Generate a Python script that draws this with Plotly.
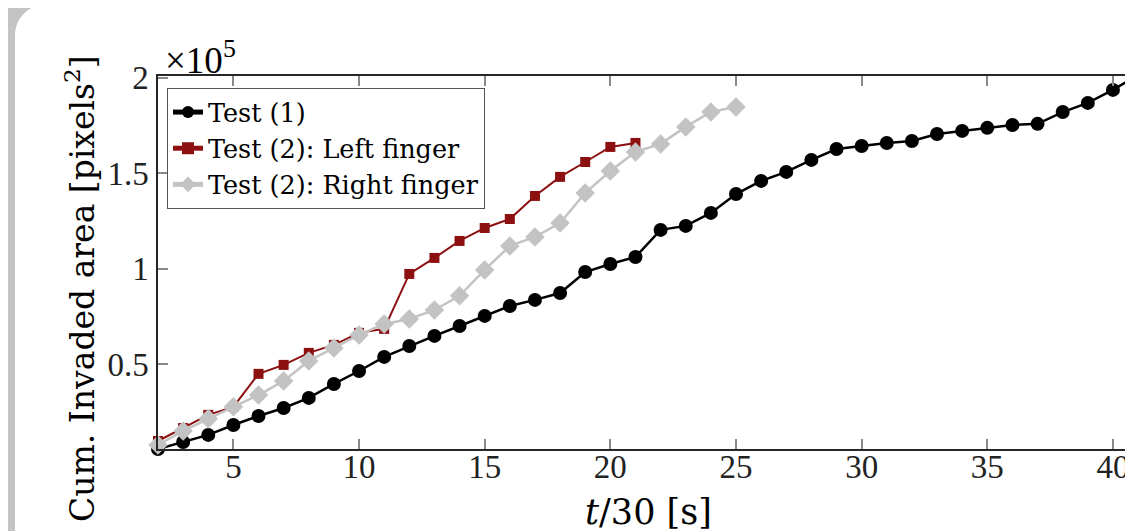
import math
import plotly.graph_objects as go

# ---- data (values in units of 1e5 pixels^2) ----
t_test1 = list(range(2, 42))
area_test1 = [0.054, 0.091, 0.128, 0.180, 0.227, 0.269, 0.322, 0.395, 0.463, 0.537,
              0.594, 0.647, 0.699, 0.752, 0.804, 0.836, 0.872, 0.982, 1.024, 1.061,
              1.203, 1.224, 1.292, 1.391, 1.460, 1.507, 1.570, 1.627, 1.643, 1.659,
              1.669, 1.706, 1.722, 1.738, 1.753, 1.759, 1.821, 1.869, 1.937, 2.015]

t_left = list(range(2, 22))
area_left = [0.096, 0.164, 0.233, 0.275, 0.448, 0.495, 0.558, 0.600, 0.663, 0.684,
             0.972, 1.056, 1.145, 1.213, 1.260, 1.381, 1.481, 1.559, 1.638, 1.659]

t_right = list(range(2, 26))
area_right = [0.075, 0.149, 0.212, 0.275, 0.337, 0.411, 0.516, 0.584, 0.652, 0.710,
              0.736, 0.783, 0.857, 0.993, 1.119, 1.166, 1.239, 1.397, 1.512, 1.612,
              1.654, 1.743, 1.821, 1.848]

x_ticks = [5, 10, 15, 20, 25, 30, 35, 40]
y_ticks = [0.5, 1, 1.5, 2]
y_ticklabels = ["0.5", "1", "1.5", "2"]

# page is offset by the 8px default body margin
OFF = 8
W, H = 1133 - OFF, 531 - OFF
L, R, T = 158 - OFF, 0, 76 - OFF
B = H - (449 - OFF)
PW, PH = W - L - R, H - T - B
px_per_unit = 25.13
x_range = [2, 2 + PW / px_per_unit]
y_range = [0.054, 2.010]

FONT = "Liberation Serif"
FONT2 = "DejaVu Serif"


def xp(px):  # page pixel -> paper x
    return (px - OFF - L) / PW


def yp(py):  # page pixel -> paper y
    return (H - B - (py - OFF)) / PH


fig = go.Figure()
fig.add_trace(go.Scatter(x=t_test1, y=area_test1, mode="lines+markers", name="Test (1)",
                         line=dict(color="black", width=2.5), cliponaxis=False,
                         marker=dict(symbol="circle", size=14, color="black")))
fig.add_trace(go.Scatter(x=t_left, y=area_left, mode="lines+markers", name="Test (2): Left finger",
                         line=dict(color="#8c1010", width=2), cliponaxis=False,
                         marker=dict(symbol="square", size=10, color="#8c1010")))
fig.add_trace(go.Scatter(x=t_right, y=area_right, mode="lines+markers", name="Test (2): Right finger",
                         line=dict(color="#c3c3c3", width=2.5), cliponaxis=False,
                         marker=dict(symbol="diamond", size=15, color="#c3c3c3")))

# decorative slide frame (gray band with rounded white corner)
gray = "#c4c4c4"
cx, cy, rad = 45, 35, 30
y_start = OFF
n = 16
arc = []
for i in range(n + 1):
    ang = math.pi / 2 + (math.pi / 2) * i / n  # top -> left of the corner circle
    x = cx + rad * math.cos(ang)
    y = cy - rad * math.sin(ang)
    if y >= y_start:
        arc.append((x, y))
path = f"M {xp(15)},{yp(y_start)} L {xp(arc[0][0])},{yp(y_start)} "
for (x, y) in arc:
    path += f"L {xp(x)},{yp(y)} "
path += f"L {xp(15)},{yp(cy)} Z"

shapes = [
    dict(type="rect", xref="paper", yref="paper", x0=xp(OFF), x1=xp(15), y0=yp(OFF), y1=yp(531),
         fillcolor=gray, line=dict(width=0), layer="below"),
    dict(type="path", xref="paper", yref="paper", layer="below", fillcolor=gray,
         line=dict(width=0), path=path),
]

annotations = [
    dict(text="Cum. Invaded area [pixels<sup>2</sup>]", xref="paper", yref="paper",
         x=xp(80), y=yp(289), textangle=-90, showarrow=False,
         font=dict(family=FONT2, size=33, color="black"), xanchor="center", yanchor="middle"),
    dict(text="<i>t</i>/30 [s]", xref="paper", yref="paper", x=xp(648), y=yp(512),
         showarrow=False, font=dict(family=FONT2, size=35, color="black"),
         xanchor="center", yanchor="middle"),
    dict(text="×10<sup>5</sup>", xref="paper", yref="paper", x=xp(163), y=yp(58),
         showarrow=False, font=dict(family=FONT, size=37, color="black"),
         xanchor="left", yanchor="middle"),
]

fig.update_layout(
    width=W, height=H,
    margin=dict(l=L, r=R, t=T, b=B, pad=0),
    paper_bgcolor="white", plot_bgcolor="white",
    font=dict(family=FONT, color="black"),
    shapes=shapes, annotations=annotations,
    showlegend=True,
    legend=dict(x=xp(167), y=yp(88), xanchor="left", yanchor="top",
                bgcolor="white", bordercolor="#555555", borderwidth=1,
                font=dict(family=FONT2, size=25.5, color="black"),
                tracegroupgap=0, itemsizing="constant"),
    xaxis=dict(range=x_range, tickvals=x_ticks, showgrid=False, zeroline=False,
               showline=True, linecolor="#262626", linewidth=1.5, mirror="ticks",
               ticks="inside", ticklen=10, tickwidth=1.5, tickcolor="#8a8a8a",
               tickfont=dict(family=FONT, size=33, color="#222"), ticklabelstandoff=-12),
    yaxis=dict(range=y_range, tickvals=y_ticks, ticktext=y_ticklabels, showgrid=False,
               zeroline=False, showline=True, linecolor="#262626", linewidth=1.5, mirror=False,
               ticks="inside", ticklen=10, tickwidth=1.5, tickcolor="#8a8a8a",
               tickfont=dict(family=FONT, size=33, color="#222"), ticklabelstandoff=1),
)

fig.write_html("out.html")
